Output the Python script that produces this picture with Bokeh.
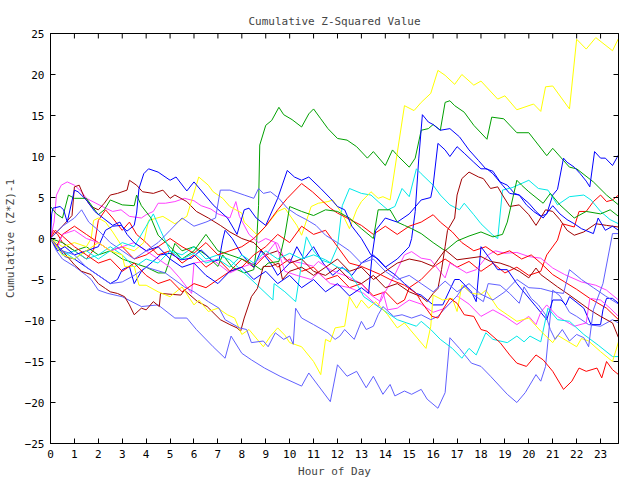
from bokeh.plotting import figure
from bokeh.models import Range1d, FixedTicker, LinearAxis
from bokeh.embed import file_html
from bokeh.resources import INLINE

hour_ticks = list(range(0, 24))
value_ticks = [-25, -20, -15, -10, -5, 0, 5, 10, 15, 20, 25]

yellow_1 = [(0,0),(0.5,-1),(1,-0.5),(1.5,-1),(1.7,0),(1.8,2.2),(2.0,2.5),(2.3,2.0),(2.6,0.8),(3.0,-1),
            (3.5,-1.5),(3.9,-0.5),(4.1,2.2),(4.7,2.7),(5.2,1.8),(5.7,2.7),(6.2,7.5),(6.6,6.5),(6.8,5.7),(7.2,4.9),
            (7.5,3.9),(8.0,3.1),(8.1,2.0),(8.65,0.4),(9.0,1.5),(9.5,3.3),(9.8,3.7),(10.3,1.6),(10.5,0.4),(10.9,3.9),
            (11.2,4.3),(11.6,4.5),(11.8,4.7),(12.2,3.0),(12.5,1.2),(12.8,3.5),(13.0,4.5),(13.4,5.7),(13.7,4.9),(13.9,5.1),
            (14.2,4.7),(14.8,16.2),(15.2,15.6),(15.5,16.6),(15.9,17.7),(16.2,20.5),(16.5,19.9),(16.9,18.8),(17.2,20.0),(17.7,18.7),
            (18.0,19.2),(18.7,17.0),(19.0,17.4),(19.5,15.7),(20.2,16.4),(20.5,15.5),(20.7,18.5),(21.0,18.6),(21.7,15.8),(22.0,24.3),
            (22.4,23.1),(22.8,24.5),(23.5,22.9),(23.75,24.4)]
yellow_2 = [(0,0),(0.5,-2),(1,-2.5),(1.5,-1.5),(2,-0.5),(2.5,-1.5),(3,-2),(3.1,-3.4),(3.5,-3.4),(3.7,-5.7),(4,-5.7),
            (4.5,-6.5),(5,-7.1),(5.5,-5.9),(6,-8.1),(6.2,-7.5),(6.6,-8.9),(7,-8.5),(7.4,-9.3),(7.7,-9.7),(8.0,-11.7),
            (8.3,-11.1),(8.9,-13.2),(9.2,-11.9),(9.5,-10.9),(9.8,-11.8),(10.0,-12.7),(10.5,-13.2),(11.0,-15.0),(11.3,-16.6),
            (11.5,-12.3),(11.7,-12.6),(11.9,-10.9),(12.3,-10.7),(12.5,-7.1),(12.8,-8.5),(13.0,-7.5),(13.3,-8.5),(13.6,-7.7),
            (14.1,-9.3),(14.5,-10.9),(14.8,-10.3),(15.7,-13.4),(15.9,-10.7),(16.0,-6.9),(16.4,-7.5),(16.8,-7.3),(17.0,-8.9),
            (17.2,-5.7),(17.6,-6.7),(18.0,-6.8),(18.2,-6.3),(18.7,-8.5),(19.1,-9.3),(19.5,-10.1),(20.0,-9.7),(20.5,-11.3),
            (21.0,-12.7),(21.2,-11.8),(22.0,-13.2),(22.2,-12.2),(22.5,-12.5),(23.0,-13.8),(23.5,-15.0),(23.75,-12.6)]
green_1 = [(0,0),(0.5,-0.5),(1,-1.5),(1.5,-1),(2,-2),(2.5,-1.5),(3,-2.5),(3.5,-3),(4,-3.5),(4.5,-4.2),(4.8,-4.2),
           (5.2,-0.6),(5.5,-1.5),(6,-1),(6.5,-2),(7,-3.4),(7.2,-2),(7.6,-3.5),(8.1,-4.2),(8.5,-3.8),(8.6,-1.5),(8.7,4),
           (8.75,11.4),(9.0,13.8),(9.25,14.4),(9.55,16.0),(9.75,15.1),(10.1,14.5),(10.5,13.6),(10.8,15.2),(11.0,15.8),
           (11.3,14.6),(11.6,13.4),(12.0,12.2),(12.4,12.0),(12.8,11.2),(13.25,9.8),(13.5,10.6),(14.0,8.9),(14.3,10.8),
           (14.55,10.0),(15.0,8.7),(15.25,9.8),(15.5,13.2),(15.8,13.4),(16.0,13.9),(16.3,13.2),(16.5,16.6),(16.7,16.8),
           (16.9,16.2),(17.3,15.4),(17.7,13.8),(18.25,12.1),(18.45,14.8),(18.95,14.6),(19.5,12.9),(20.0,12.9),(20.75,10.1),
           (21.0,11.0),(21.7,8.7),(22.0,8.5),(22.7,6.9),(23.25,5.3),(23.75,4.1)]
green_2 = [(0,3.9),(0.25,3.0),(0.5,2.5),(0.75,5.3),(1,4.9),(1.5,4.9),(2,2.9),(2.25,3.5),(2.5,4.7),(3,4.1),(3.5,4.0),
           (3.6,5.3),(3.8,4.0),(4.2,2.5),(4.5,0.4),(5,-1),(5.5,-2.5),(6,-1.5),(6.5,0.5),(7,-1.5),(7.5,-2),(8,-2.5),
           (8.5,-3.2),(8.8,-3.8),(9.1,-3.0),(9.55,-2.8),(9.8,0.4),(10.0,3.9),(10.5,3.3),(11,2.8),(11.5,3.5),(12,3.3),
           (12.5,2.5),(13,1.2),(13.5,0),(13.7,3.5),(14.2,3.5),(14.5,2.0),(14.8,1.6),(15.1,1.2),(15.5,0.6),(16,-0.5),
           (16.5,-1.5),(17,-0.3),(17.5,0.3),(18,0.8),(18.5,0.2),(18.9,0.5),(19.1,2.0),(19.5,7.1),(19.7,6.5),(20.0,5.7),
           (20.6,4.3),(20.9,5.5),(21.3,4.1),(21.9,2.5),(22.4,3.3),(23.0,3.0),(23.4,3.5),(23.75,2.7)]
blue_1 = [(0,0),(0.3,-1),(0.6,-2.2),(1.0,-2.5),(1.5,-3.5),(2.0,-4.5),(2.5,-5.5),(2.8,-5.0),(3.0,-3.8),(3.3,-3.4),
          (3.5,-5.5),(3.8,-4.0),(4.2,-3.0),(4.6,-2.0),(5.0,-1.8),(5.45,-2.6),(5.9,-2.4),(6.3,-1.4),(6.8,-2.8),(7.05,-2.6),
          (7.2,-0.2),(7.3,1.0),(7.6,0),(8.0,-2),(8.5,-3.5),(8.8,-1.5),(9.2,-3),(9.5,-4.5),(10,-3),(10.3,-1),(10.6,-2.5),
          (11,-1),(11.4,-3),(11.8,-4.5),(12.2,-3.5),(12.6,-4.5),(13.0,-3.0),(13.5,-2.0),(14.0,-3.5),(14.5,-2.5),(15.0,-1.0),
          (15.1,0.0),(15.25,3.3),(15.4,9.8),(15.55,15.1),(15.8,14.2),(16.0,13.9),(16.3,13.2),(16.7,13.4),(17.1,12.4),
          (17.5,10.8),(17.9,9.5),(18.2,8.5),(18.5,8.2),(18.8,6.9),(19.1,6.5),(19.4,5.5),(19.6,5.3),(19.9,4.1),(20.2,3.3),
          (20.5,2.7),(20.75,3.0),(21.0,5.3),(21.2,6.0),(21.45,9.8),(21.6,9.3),(21.9,8.7),(22.15,7.9),(22.4,7.0),(22.55,6.3),
          (22.75,10.6),(23.0,9.8),(23.2,9.8),(23.5,8.9),(23.75,10.2)]
blue_2 = [(0,0),(0.3,-1.5),(0.6,-1),(1,-2),(1.5,-1.5),(2,-1),(2.3,1),(2.6,1.5),(2.95,1.6),(3.2,0.9),(3.5,1.6),(3.6,3.1),
          (3.7,6.1),(3.9,7.9),(4.1,8.5),(4.5,8.1),(5.0,7.1),(5.25,7.5),(5.7,5.8),(6.0,6.9),(6.8,4.1),(7.4,2.5),(7.8,0.5),
          (8.1,3.5),(8.3,3.7),(8.6,2.5),(9.0,1.6),(9.5,4.9),(9.9,8.3),(10.2,7.5),(10.5,7.1),(10.8,7.5),(11.3,6.1),(11.7,4.9),
          (12.0,3.9),(12.3,3.5),(12.6,1.5),(13.0,0.0),(13.4,-2.0),(13.7,-2.5),(14.1,-3.8),(14.4,-4.4),(14.8,-5.5),(15.3,-6.7),
          (15.5,-6.9),(16.0,-8.1),(16.4,-8.1),(16.9,-5.0),(17.1,-5.0),(17.6,-6.5),(17.8,-7.7),(18.0,-1.0),(18.3,-2.2),
          (18.7,-3.8),(19.1,-3.8),(19.5,-5.5),(20.3,-8.3),(20.75,-9.9),(21.0,-7.5),(21.35,-7.5),(21.55,-8.1),(21.7,-7.1),
          (22.3,-8.5),(22.6,-10.5),(23.0,-10.5),(23.1,-8.7),(23.25,-7.3),(23.5,-7.3),(23.75,-7.9)]
blue_3 = [(0,0),(0.05,3.0),(0.1,3.7),(0.4,3.9),(0.55,3.5),(0.7,2.0),(1.0,5.9),(1.15,5.7),(1.5,4.7),(1.85,3.3),(2.2,2.5),
          (2.6,1.6),(2.9,2.0),(3.2,0.5),(3.5,-0.5),(4.0,-1.5),(4.5,-1.0),(5.0,-2.5),(5.5,-3.5),(6.0,-3.0),(6.5,-4.5),
          (7.0,-5.5),(7.5,-4.0),(8.0,-3.5),(8.5,-5.0),(9.0,-4.0),(9.5,-5.5),(10.0,-4.5),(10.5,-6.0),(11.0,-5.0),(11.5,-6.5),
          (12.0,-5.5),(12.5,-7.0),(13.0,-6.0),(13.3,-6.7),(13.45,-2.0),(13.6,1.0),(14.0,2.5),(14.5,2.0),(15.0,3.0),(15.5,4.7),
          (15.9,5.0),(16.0,6.5),(16.2,11.6),(16.5,10.8),(16.7,10.0),(17.0,11.2),(17.3,10.4),(17.7,9.3),(18.0,8.5),(18.25,8.5),
          (18.5,7.9),(18.9,6.5),(19.2,5.5),(19.6,5.3),(20.0,4.3),(20.3,3.3),(20.6,2.5),(21.0,4.0),(21.3,3.0),(21.6,2.3),
          (21.9,1.8),(22.2,1.2),(22.7,0.6),(22.9,2.5),(23.2,1.0),(23.5,1.5),(23.75,1.0)]
magenta_1 = [(0,0),(0.15,2),(0.25,5.3),(0.45,6.5),(0.7,6.9),(1.0,6.5),(1.3,5.7),(1.5,4.9),(1.9,4.3),(2.3,3.7),(2.6,3.3),
             (2.95,3.5),(3.3,2.7),(3.8,2.5),(4.0,2.9),(4.3,3.3),(4.5,4.3),(4.8,4.3),(5.2,4.5),(5.6,4.9),(6.0,4.6),(6.3,4.0),
             (6.7,3.6),(7.0,3.0),(7.5,2.5),(7.75,4.5),(7.9,2.7),(8.3,0.5),(8.7,-0.5),(9.0,0.0),(9.5,-0.6),(9.8,-2.6),
             (10.5,-3.0),(11.0,-3.4),(11.2,-2.8),(11.7,-3.8),(12.0,-4.2),(12.4,-4.6),(13.0,-5.5),(13.4,-6.9),(13.8,-7.7),
             (14.0,-6.5),(14.4,-4.4),(14.8,-2.0),(15.1,-1.6),(15.5,-2.4),(15.9,-2.6),(16.5,-4.8),(16.7,-3.0),(17.0,-3.5),
             (17.4,-4.2),(17.8,-3.8),(18.3,-2.0),(18.6,-1.5),(19.0,-1.8),(19.5,-1.7),(20.0,-2.2),(20.5,-2.4),(21.0,-3.6),
             (21.5,-4.4),(22.2,-5.3),(22.8,-5.7),(23.25,-6.3),(23.75,-7.5)]
magenta_2 = [(0,0),(0.3,-1.0),(0.5,0.5),(1,1.0),(1.5,0),(2,-0.5),(2.5,-1.5),(3,-1),(3.5,-0.5),(4,-1.5),(4.5,-2.5),
             (5.0,-3.5),(5.4,-4.8),(5.9,-6.7),(6.0,-3.0),(6.8,-2.6),(7.5,-4.2),(8.0,-3.5),(8.5,-3.0),(9.0,-2.0),(9.4,-0.5),
             (9.8,-4.0),(10.3,-4.5),(10.9,-5.0),(11.2,-4.2),(11.7,-5.5),(12.5,-6.0),(13.1,-6.7),(13.7,-8.3),(13.9,-6.5),
             (14.1,-8.7),(14.5,-8.5),(15.0,-7.5),(15.5,-8.0),(16.0,-9.0),(16.5,-8.5),(17.0,-7.0),(17.5,-8.0),(18.0,-9.5),
             (18.5,-8.7),(19.0,-9.5),(19.5,-10.5),(20.0,-9.5),(20.3,-10.5),(20.5,-9.0),(20.75,-8.1),(21.2,-9.5),(21.9,-10.7),
             (22.4,-10.3),(22.55,-7.3),(23.0,-7.5),(23.4,-8.5),(23.75,-9.5)]
cyan_1 = [(0,0),(0.5,-2),(1,-1.5),(1.5,-2.5),(2,-2),(2.5,-1),(3,-2),(3.5,-3.5),(4,-2.5),(4.5,-3),(5,-1.5),(5.5,-2),(6,-1),
          (6.5,-2.5),(7,-2),(7.5,-2.6),(8.1,-4.2),(8.65,-5.7),(9.3,-7.5),(9.35,-5.5),(9.8,-6.5),(10.25,-7.7),(10.5,-3.0),
          (10.7,0.2),(11.0,-1.5),(11.3,-2.6),(11.7,-3.0),(12.0,-1.0),(12.2,4.0),(12.5,6.1),(13.0,5.5),(13.4,5.3),(13.7,4.5),
          (14.1,3.5),(14.4,3.9),(14.7,6.1),(15.0,5.1),(15.3,8.5),(15.5,7.9),(16.0,6.5),(16.3,5.3),(16.7,4.1),(17.1,3.5),
          (17.3,4.3),(17.7,2.9),(18.0,1.8),(18.5,0.4),(18.7,0.0),(18.9,5.9),(19.3,6.2),(20.0,7.1),(20.4,6.1),(20.8,5.9),
          (21.2,4.1),(21.7,5.1),(22.3,5.3),(22.6,4.7),(23.0,3.3),(23.4,2.3),(23.75,1.8)]
cyan_2 = [(0,0),(0.5,-1.5),(1,-2.5),(1.5,-1.5),(2,-2.5),(2.5,-1.5),(3,-0.5),(3.5,-1),(4,1.5),(4.3,3),(4.6,1),(5,-1.5),
          (5.5,-2.5),(6,-1.8),(6.5,-3),(7,-2.5),(7.5,-3.5),(8,-2),(8.5,-3),(9,-1.5),(9.5,-2.5),(10,-1.8),(10.5,-2.5),(11,-2),
          (11.5,-2.6),(12,-3.5),(12.4,-3.8),(12.8,-5.5),(13.1,-7.1),(13.7,-8.3),(14.1,-9.1),(14.5,-9.9),(14.9,-10.3),
          (15.3,-10.7),(15.5,-10.1),(15.9,-11.1),(16.3,-12.3),(16.8,-13.4),(17.2,-14.6),(17.5,-13.4),(17.8,-14.2),
          (18.2,-11.5),(18.5,-12.3),(19.1,-12.7),(19.5,-11.9),(19.8,-12.6),(20.05,-11.9),(20.5,-12.6),(20.8,-8.5),
          (21.2,-9.9),(21.7,-10.1),(22.3,-11.7),(22.9,-13.0),(23.5,-14.4),(23.75,-14.4)]
red_1 = [(0,0),(0.1,1.0),(0.3,0.5),(0.5,-0.5),(1.0,-1.5),(1.5,-2.5),(1.8,-1.4),(2.0,2.2),(2.3,3.5),(2.6,2.5),(3.0,1.0),
         (3.3,2.0),(3.6,0.5),(4.0,-0.5),(4.5,-2.0),(5.0,-1.5),(5.5,-3),(6.0,-2),(6.5,-3.5),(7.0,-2.5),(7.5,-4.0),(8.0,-2.5),
         (8.5,-3.5),(9,-2),(9.5,-3.5),(10,-2.5),(10.5,-4),(11,-3.5),(11.5,-5),(12,-4.5),(12.5,-6.0),(13,-5.5),(13.5,-7),
         (14,-6.5),(14.5,-8),(14.8,-7.5),(15,-6),(15.5,-5),(16,-3.5),(16.5,-2.5),(17,-3.5),(17.5,-2.8),(18,-4.0),(18.5,-3.0),
         (19,-4.2),(19.5,-3.5),(20,-4.5),(20.5,-4.0),(20.75,-2.0),(21.2,-0.2),(21.4,1.8),(21.9,1.4),(22.1,3.3),(22.4,3.3),
         (22.7,4.5),(23.0,5.3),(23.25,4.5),(23.5,4.7),(23.75,5.3)]
red_2 = [(0,0),(0.25,-1),(0.5,0.5),(1.0,1.5),(1.5,0.5),(2,-0.5),(2.5,-1.5),(3,-1),(3.5,-2.5),(4,-2),(4.5,-1),(5,0),(5.5,-1),
         (6,-1.8),(6.5,-0.5),(7,-2),(7.5,-1.5),(8,-1),(8.5,0),(9,1.5),(9.5,3.5),(9.9,4.9),(10.5,6.7),(10.95,5.7),(11.4,4.5),
         (11.7,3.7),(12.0,3.1),(12.4,2.5),(13.0,1.6),(13.5,0.5),(14,1.5),(14.5,0.5),(15,1.5),(15.5,2.0),(16,2.9),(16.3,2.0),
         (16.8,0.8),(17.2,-0.5),(17.7,-1.5),(18.2,-1.0),(18.7,-2.0),(19.2,-1.5),(19.7,-2.5),(20.1,-2.0),(20.5,-3.0),
         (21.0,-4.4),(21.5,-5.3),(22.0,-6.2),(22.55,-7.3),(23.25,-8.5),(23.75,-9.9)]
red_3 = [(0,0),(0.2,1.0),(0.5,0.3),(1,-1),(1.5,-2),(2,-3),(2.5,-2.5),(3,-4),(3.5,-3),(4,-4.5),(4.5,-5.5),(5,-5),(5.5,-6.5),
         (6,-5.5),(6.5,-6),(7,-5),(7.5,-4),(8,-3.5),(8.5,-2),(9,-1),(9.5,0.5),(10,-0.5),(10.5,1.5),(11,0.5),(11.5,1.0),
         (12,-1.0),(12.5,-3.0),(13,-3.4),(13.8,-4.4),(14.2,-5.0),(14.8,-5.7),(15.3,-6.7),(15.5,-7.7),(15.75,-8.7),
         (15.95,-9.5),(16.2,-9.7),(16.4,-8.7),(16.7,-7.3),(17.0,-7.9),(17.3,-9.3),(17.7,-9.5),(18.0,-11.1),(18.25,-11.3),
         (18.8,-12.7),(19.2,-14.2),(19.5,-15.2),(19.9,-15.6),(20.3,-14.2),(20.6,-14.8),(21.0,-16.2),(21.45,-18.4),
         (21.8,-17.4),(22.1,-15.8),(22.4,-16.2),(22.85,-15.8),(23.05,-17.0),(23.25,-15.0),(23.5,-16.0),(23.75,-16.6)]
darkred_1 = [(0,0),(0.5,1.5),(0.9,2.8),(1.0,6.3),(1.2,6.5),(1.4,5.1),(1.7,3.9),(2.0,3.5),(2.25,4.3),(2.5,5.3),(2.8,5.5),
             (3.2,5.9),(3.3,7.1),(3.6,6.5),(3.85,5.7),(4.3,5.5),(4.7,5.9),(5.0,4.9),(5.2,5.3),(5.7,4.5),(6.1,3.3),(6.6,2.5),
             (7.1,1.6),(7.5,0.8),(8,0),(8.5,-0.5),(9,-2),(9.5,-1.5),(10,-3),(10.5,-2.5),(11,-4),(11.5,-4.5),(12,-3.5),
             (12.5,-5),(13,-5.5),(13.5,-4.5),(14,-6),(14.5,-5.5),(15,-6.5),(15.5,-7.1),(15.75,-7.7),(16,-6.7),(16.2,-6.1),
             (16.35,-3.8),(16.5,-1.0),(16.6,1.0),(16.9,2.5),(17.0,5.3),(17.2,7.3),(17.5,8.1),(17.9,7.5),(18.1,7.3),(18.4,6.1),
             (18.7,6.3),(18.9,5.3),(19.2,3.9),(19.6,4.1),(20.0,2.9),(20.3,1.6),(20.7,3.5),(21.0,3.3),(21.3,2.3),(21.6,1.0),
             (21.9,0.4),(22.3,0.8),(22.8,1.8),(23.25,1.6),(23.75,1.4)]
darkred_2 = [(0,0),(0.5,-1.5),(1.0,-3.2),(1.3,-4.0),(1.7,-4.4),(2.0,-5.5),(2.3,-6.1),(2.5,-6.5),(2.8,-6.7),(3.1,-7.1),
             (3.3,-8.1),(3.5,-9.3),(3.8,-8.5),(4.0,-8.7),(4.3,-7.7),(4.55,-8.3),(4.6,-6.7),(5.45,-6.9),(5.6,-6.3),(6.15,-7.7),
             (6.55,-8.3),(7.1,-9.9),(7.5,-10.5),(7.8,-10.9),(7.95,-11.3),(8.1,-9.7),(8.4,-7.1),(8.65,-6.1),(8.9,-3.4),
             (9.2,-3.4),(9.55,-3.0),(9.7,-5.0),(10,-4),(10.5,-3.5),(11,-4.5),(11.5,-3.5),(12,-2.5),(12.5,-4),(13,-3.5),
             (13.5,-5),(14,-4),(14.5,-3),(15,-2.5),(15.5,-2.8),(16,-3.4),(16.5,-1.4),(17,-2.6),(18,-2.2),(18.4,-2.8),
             (18.8,-3.0),(19.2,-3.4),(19.6,-4.0),(20.0,-4.8),(20.3,-3.6),(20.5,-4.4),(21.2,-5.9),(21.7,-6.9),(22.55,-8.7),
             (23.0,-9.5),(23.5,-10.3),(23.75,-12.1)]
slate_1 = [(0,0),(0.25,-1.5),(0.5,-2.5),(1.0,-3.4),(1.5,-4.5),(1.7,-5.0),(2.0,-6.3),(2.4,-6.7),(3.0,-7.1),(3.8,-8.3),
           (4.5,-8.1),(5.2,-9.7),(5.7,-9.7),(6.1,-11.1),(6.8,-13.2),(7.3,-14.6),(7.55,-11.9),(8.0,-14.0),(8.4,-14.8),
           (8.95,-15.8),(9.6,-16.8),(10.5,-18.0),(10.8,-16.4),(11.7,-19.9),(12.0,-15.4),(12.4,-16.8),(12.8,-16.2),
           (13.2,-18.2),(13.5,-16.8),(13.9,-19.0),(14.2,-17.8),(14.4,-19.2),(14.8,-18.6),(15.1,-19.0),(15.5,-18.4),
           (15.75,-19.6),(16.2,-20.7),(16.5,-18.8),(16.7,-12.1),(17.1,-13.4),(17.6,-15.2),(18.0,-15.6),(18.4,-16.8),
           (19.1,-19.0),(19.5,-20.0),(19.85,-18.8),(20.3,-16.6),(20.5,-17.4),(20.7,-15.6),(21.0,-6.3),(21.3,-7.0),
           (21.7,-9.0),(22.0,-9.5),(22.5,-10.5),(23.0,-10.7),(23.5,-9.9),(23.75,-10.3)]
slate_2 = [(0,0),(0.5,-1.5),(1,-2),(1.5,-3.5),(2,-4.5),(2.5,-5.5),(3,-5.3),(3.5,-4.5),(4,-3.5),(4.8,-4.2),(5.6,-5.9),
           (6.0,-6.5),(6.6,-7.7),(7.05,-8.5),(7.3,-9.9),(7.9,-10.9),(8.2,-11.1),(8.4,-12.7),(8.9,-12.5),(9.1,-13.2),
           (9.4,-11.5),(9.75,-12.3),(10.0,-11.9),(10.15,-12.9),(10.25,-8.5),(10.5,-9.7),(11.0,-10.5),(11.6,-11.5),
           (11.9,-12.3),(12.1,-11.9),(12.3,-11.1),(12.7,-12.3),(13.0,-10.1),(13.2,-11.1),(13.5,-10.7),(13.7,-9.3),
           (13.9,-8.3),(14.35,-9.5),(14.7,-9.3),(15.1,-9.7),(15.5,-9.3),(15.9,-9.9),(16.2,-9.5),(16.5,-8.5),(17.0,-7.0),
           (17.3,-5.7),(17.6,-6.7),(18.1,-7.7),(18.3,-5.5),(18.8,-5.7),(19.2,-6.7),(19.6,-7.9),(19.8,-5.9),(20.1,-7.3),
           (20.4,-8.1),(20.7,-9.3),(20.9,-11.1),(21.1,-12.3),(21.4,-11.1),(21.7,-12.5),(22.0,-11.7),(22.3,-12.1),
           (22.5,-13.2),(22.7,-8.7),(23.1,-5.5),(23.5,0.6),(23.75,0.6)]
slate_3 = [(0,0),(0.5,1.5),(1.0,2.5),(1.3,3.5),(1.6,2.0),(2.0,1.0),(2.5,-0.5),(3,-1.5),(3.5,-2.5),(4.0,-1.5),(4.5,-0.5),
           (5.0,1.0),(5.5,2.5),(6.0,1.5),(6.5,2.0),(6.9,2.5),(7.1,5.9),(7.5,5.9),(8.1,5.3),(8.5,4.9),(8.7,6.1),(8.9,5.5),
           (9.2,5.7),(9.55,4.9),(9.9,3.7),(10.3,2.9),(10.7,2.3),(11.1,1.6),(11.5,0.4),(12,-0.5),(12.5,-1.5),(13,-3),
           (13.5,-2.5),(14,-4),(14.5,-5),(15,-4.5),(15.5,-5.5),(16,-6.5),(16.5,-5.2),(17,-6.5),(17.5,-5.5),(18,-6.8),
           (18.5,-7.5),(19,-6.5),(19.5,-5),(20,-6),(20.5,-6.1),(21,-6.5),(21.45,-6.7),(21.7,-3.8),(22.2,-5.0),(22.7,-6.0),
           (23.2,-7.0),(23.75,-8.0)]

series = [
    (red_1, "#ff0000"), (green_1, "#00a000"), (blue_1, "#0000ff"), (magenta_1, "#ff40ff"),
    (cyan_1, "#00e8e8"), (darkred_1, "#a00000"), (yellow_1, "#ffff00"), (slate_1, "#6060ff"),
    (red_2, "#ff0000"), (green_2, "#00a000"), (blue_2, "#0000ff"), (magenta_2, "#ff40ff"),
    (cyan_2, "#00e8e8"), (darkred_2, "#a00000"), (yellow_2, "#ffff00"), (slate_2, "#6060ff"),
    (red_3, "#ff0000"), (blue_3, "#0000ff"), (slate_3, "#6060ff"),
]

FONT = "DejaVu Sans Mono"
W, H = 640, 480
LEFT, RIGHT, TOP, BOTTOM = 49, 22, 33, 36
X0, X1, Y0, Y1 = 0, 23.75, -25, 25

p = figure(width=W, height=H, output_backend="svg", toolbar_location=None,
           x_range=Range1d(X0, X1), y_range=Range1d(Y0, Y1),
           min_border_left=LEFT, min_border_right=RIGHT, min_border_top=TOP, min_border_bottom=BOTTOM)
p.title.text = "Cumulative Z-Squared Value"
p.title.align = "center"
p.title.text_font = FONT
p.title.text_font_size = "11px"
p.title.text_font_style = "normal"
p.title.standoff = 12
p.grid.visible = False
p.outline_line_color = "black"
p.outline_line_width = 1
p.background_fill_color = "white"
p.border_fill_color = "white"

for pts, col in series:
    xs = [a for a, b in pts]
    ys = [b for a, b in pts]
    p.line(xs, ys, line_color=col, line_width=1)

# mirrored inward ticks on top and right edges (5 px long)
dx = 5 * (X1 - X0) / (W - LEFT - RIGHT)
dy = 5 * (Y1 - Y0) / (H - TOP - BOTTOM)
p.segment(x0=hour_ticks, y0=[Y1] * len(hour_ticks), x1=hour_ticks, y1=[Y1 - dy] * len(hour_ticks),
          line_color="black", line_width=1)
p.segment(x0=[X1] * len(value_ticks), y0=value_ticks, x1=[X1 - dx] * len(value_ticks), y1=value_ticks,
          line_color="black", line_width=1)

def style(ax):
    ax.major_tick_in = 5
    ax.major_tick_out = 0
    ax.minor_tick_in = 0
    ax.minor_tick_out = 0
    ax.axis_line_color = "black"
    ax.major_tick_line_color = "black"
    ax.major_label_text_font = FONT
    ax.major_label_text_font_size = "11px"
    ax.major_label_text_color = "black"
    ax.axis_label_text_font = FONT
    ax.axis_label_text_font_size = "11px"
    ax.axis_label_text_font_style = "normal"

xa = p.xaxis[0]
xa.ticker = FixedTicker(ticks=hour_ticks)
xa.axis_label = "Hour of Day"
xa.major_label_standoff = 6
xa.axis_label_standoff = 4
style(xa)

ya = p.yaxis[0]
ya.ticker = FixedTicker(ticks=value_ticks)
ya.axis_label = "Cumulative (Z*Z)-1"
ya.major_label_standoff = 6
ya.axis_label_standoff = 5
style(ya)

# plain border lines on the top and right edges (no ticks or labels there)
for side in ("above", "right"):
    edge = LinearAxis(ticker=FixedTicker(ticks=[]))
    edge.axis_line_color = "black"
    edge.major_tick_in = 0
    edge.major_tick_out = 0
    edge.minor_tick_in = 0
    edge.minor_tick_out = 0
    edge.major_label_standoff = 0
    p.add_layout(edge, side)

open("out.html", "w").write(file_html(p, INLINE))
